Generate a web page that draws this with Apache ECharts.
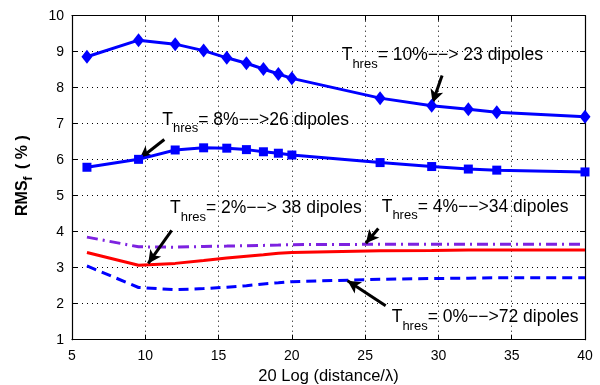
<!DOCTYPE html>
<html><head><meta charset="utf-8">
<script src="https://cdn.jsdelivr.net/npm/echarts@6/dist/echarts.min.js"></script>
<style>html,body{margin:0;padding:0;background:#fff}#c{width:600px;height:385px}</style>
</head><body><div id="c"></div>
<script>
// x positions: 20 Log(distance/λ)
const xVals = [6.02, 9.54, 12.04, 13.98, 15.56, 16.90, 18.06, 19.08, 20.00, 26.02, 29.54, 32.04, 33.98, 40.00];
const thr10 = [8.86, 9.32, 9.21, 9.03, 8.83, 8.68, 8.52, 8.38, 8.26, 7.71, 7.50, 7.40, 7.32, 7.19];
const thr8  = [5.79, 6.01, 6.27, 6.33, 6.32, 6.28, 6.22, 6.18, 6.13, 5.92, 5.81, 5.74, 5.71, 5.66];
const thr4  = [3.85, 3.58, 3.57, 3.59, 3.60, 3.61, 3.62, 3.63, 3.64, 3.65, 3.65, 3.65, 3.65, 3.65];
const thr2  = [3.42, 3.07, 3.12, 3.20, 3.27, 3.32, 3.36, 3.40, 3.42, 3.47, 3.48, 3.49, 3.49, 3.49];
const thr0  = [3.05, 2.45, 2.39, 2.42, 2.46, 2.50, 2.55, 2.58, 2.61, 2.68, 2.70, 2.71, 2.72, 2.72];
const xTicks = [5, 10, 15, 20, 25, 30, 35, 40];
const yTicks = [1, 2, 3, 4, 5, 6, 7, 8, 9, 10];
// annotation arrows: [tailX, tailY, headX, headY] in data units
const arrows = [
  [30.25, 8.34, 29.6, 7.58],
  [11.3, 6.56, 9.6, 6.02],
  [11.8, 4.04, 10.2, 3.12],
  [25.9, 4.09, 25.05, 3.68],
  [26.4, 1.94, 23.8, 2.64]
];
const noteTexts = [
  '= 10%\u2212\u2212> 23 dipoles',
  '= 8%\u2212\u2212>26 dipoles',
  '= 2%\u2212\u2212> 38 dipoles',
  '= 4%\u2212\u2212>34 dipoles',
  '= 0%\u2212\u2212>72 dipoles'
];
const yNameParts = ['RMS', 'f', ' ( % )'];
const FONT = 'Liberation Sans, Arial, sans-serif';
const MAIN_FS = 17.5, SUB_FS = 13;
const pair = a => xVals.map((x, i) => [x, a[i]]);

const ctx = document.createElement('canvas').getContext('2d');
function tw(s, font) { ctx.font = font; return ctx.measureText(s).width; }

// left of "T" and baseline of main text (pixels)
const notePos = [[341.7, 61], [162.3, 125.7], [170, 214.3], [381.7, 212.7], [391.7, 323.3]];
const graphics = [];
const mainFont = MAIN_FS + 'px ' + FONT, subFont = SUB_FS + 'px ' + FONT;
const st = (t, font) => ({text: t, fill: '#000', font: font, verticalAlign: 'middle', align: 'left'});
noteTexts.forEach((txt, i) => {
  const [x0, base] = notePos[i];
  const wT = tw('T', mainFont), wS = tw('hres', subFont);
  const mid = base - 0.33 * MAIN_FS;
  const subMid = base + 7.3 - 0.33 * SUB_FS;
  graphics.push({type: 'text', x: x0, y: mid, z: 100, style: st('T', mainFont)});
  graphics.push({type: 'text', x: x0 + wT, y: subMid, z: 100, style: st('hres', subFont)});
  graphics.push({type: 'text', x: x0 + wT + wS, y: mid, z: 100, style: st(txt, mainFont)});
});
// rotated y-axis title with subscript
(function () {
  const fA = 'bold 16px ' + FONT, fB = 'bold 12px ' + FONT;
  const w0 = tw(yNameParts[0], fA), w1 = tw(yNameParts[1], fB);
  graphics.push({
    type: 'group', x: 28, y: 216, rotation: Math.PI / 2, z: 100,
    children: [
      {type: 'text', x: 0, y: -0.33 * 16, style: st(yNameParts[0], fA)},
      {type: 'text', x: w0, y: 4.5 - 0.33 * 12, style: st(yNameParts[1], fB)},
      {type: 'text', x: w0 + w1 + 3, y: -0.33 * 16, style: st(yNameParts[2], fA)}
    ]
  });
})();

const chart = echarts.init(document.getElementById('c'), null, {renderer: 'canvas'});
const axisLbl = {color: '#000', fontSize: 14, fontFamily: FONT};
chart.setOption({
  animation: false,
  backgroundColor: '#fff',
  grid: {left: 72, right: 15, top: 15.7, bottom: 45.3, show: false, containLabel: false, outerBoundsMode: 'none'},
  xAxis: [{
    type: 'value', min: 5, max: 40, interval: 5,
    axisLine: {onZero: false, lineStyle: {color: '#000', width: 1.2}},
    axisTick: {inside: true, length: 5, lineStyle: {color: '#000'}},
    axisLabel: Object.assign({margin: 9, formatter: v => xTicks.includes(v) ? String(v) : ''}, axisLbl),
    splitLine: {show: true, lineStyle: {color: '#000', type: [1, 4], width: 1}},
    name: '20 Log (distance/λ)', nameLocation: 'middle', nameGap: 28,
    nameTextStyle: {color: '#000', fontSize: 16.5, fontFamily: FONT}
  }, {
    type: 'value', position: 'top', min: 5, max: 40, interval: 5,
    axisLine: {show: true, lineStyle: {color: '#000', width: 1.2}},
    axisTick: {inside: true, length: 5, lineStyle: {color: '#000'}},
    axisLabel: {show: false}, splitLine: {show: false}
  }],
  yAxis: [{
    type: 'value', min: 1, max: 10, interval: 1,
    axisLine: {show: true, onZero: false, lineStyle: {color: '#000', width: 1.2}},
    axisTick: {show: true, inside: true, length: 5, lineStyle: {color: '#000'}},
    axisLabel: Object.assign({margin: 8, formatter: v => yTicks.includes(v) ? String(v) : ''}, axisLbl),
    splitLine: {show: true, lineStyle: {color: '#000', type: [1, 4], width: 1}}
  }, {
    type: 'value', position: 'right', min: 1, max: 10, interval: 1,
    axisLine: {show: true, lineStyle: {color: '#000', width: 1.2}},
    axisTick: {show: true, inside: true, length: 5, lineStyle: {color: '#000'}},
    axisLabel: {show: false}, splitLine: {show: false}
  }],
  graphic: graphics,
  series: [
    {type: 'line', data: pair(thr10), symbol: 'diamond', symbolSize: [11, 14], color: '#0000ff',
     lineStyle: {color: '#0000ff', width: 3}, itemStyle: {color: '#0000ff'}, z: 5},
    {type: 'line', data: pair(thr8), symbol: 'rect', symbolSize: 9, color: '#0000ff',
     lineStyle: {color: '#0000ff', width: 3}, itemStyle: {color: '#0000ff'}, z: 5},
    {type: 'line', data: pair(thr4), symbol: 'none',
     lineStyle: {color: '#7d22e0', width: 3, type: [11, 5, 2, 5]}, z: 4},
    {type: 'line', data: pair(thr2), symbol: 'none',
     lineStyle: {color: '#ff0000', width: 3}, z: 4},
    {type: 'line', data: pair(thr0), symbol: 'none',
     lineStyle: {color: '#0000ff', width: 3, type: [10, 6]}, z: 4,
     markLine: {
       silent: true, symbol: ['none', 'arrow'], symbolSize: [10, 13],
       label: {show: false},
       lineStyle: {color: '#000', width: 3, type: 'solid'},
       data: arrows.map(a => [{coord: [a[0], a[1]]}, {coord: [a[2], a[3]]}])
     }}
  ]
});
</script></body></html>
